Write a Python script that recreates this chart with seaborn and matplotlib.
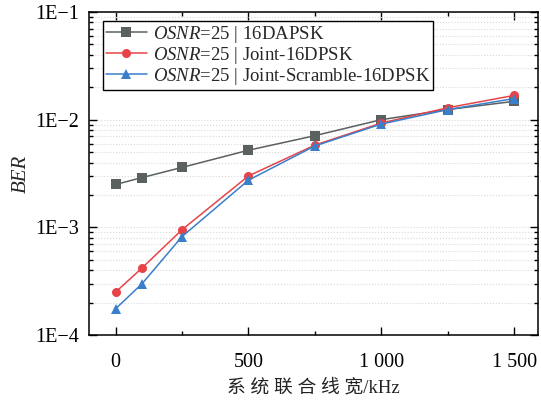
import numpy as np
import pandas as pd
import matplotlib
matplotlib.use("Agg")
import matplotlib.pyplot as plt
from matplotlib.ticker import FixedLocator, LogLocator, NullFormatter, MultipleLocator
import seaborn as sns

# Linewidth values (kHz)
linewidth_khz = [0, 100, 250, 500, 750, 1000, 1250, 1500]

# BER for each scheme at OSNR = 25
ber_16dapsk = [2.5e-3, 2.9e-3, 3.6e-3, 5.2e-3, 7.1e-3, 1.0e-2, 1.24e-2, 1.48e-2]
ber_joint = [2.5e-4, 4.2e-4, 9.5e-4, 3.0e-3, 5.8e-3, 9.3e-3, 1.29e-2, 1.68e-2]
ber_joint_scramble = [1.75e-4, 3.0e-4, 8.2e-4, 2.74e-3, 5.7e-3, 9.1e-3, 1.24e-2, 1.57e-2]

series_names = ["16DAPSK", "Joint-16DPSK", "Joint-Scramble-16DPSK"]
series_colors = ["#5b6060", "#e84447", "#3a7fca"]
series_markers = ["s", "o", "^"]
legend_labels = [r"$\mathit{OSNR}$=25 | " + n for n in series_names]

x_ticks = [0, 500, 1000, 1500]
x_tick_labels = ["0", "500", "1 000", "1 500"]
y_ticks = [1e-4, 1e-3, 1e-2, 1e-1]
y_tick_labels = ["1E\u22124", "1E\u22123", "1E\u22122", "1E\u22121"]

df = pd.DataFrame({
    "linewidth": linewidth_khz * 3,
    "ber": ber_16dapsk + ber_joint + ber_joint_scramble,
    "scheme": np.repeat(series_names, len(linewidth_khz)),
})

sns.set_theme(style="ticks")
plt.rcParams["font.family"] = ["Liberation Serif", "Noto Sans CJK SC"]
plt.rcParams["mathtext.fontset"] = "custom"
plt.rcParams["mathtext.it"] = "Liberation Serif:italic"
plt.rcParams["mathtext.rm"] = "Liberation Serif"

fig = plt.figure(figsize=(5.41, 4.0), dpi=100)
ax = fig.add_axes([0.1645, 0.1625, 0.83, 0.8075])

sns.lineplot(
    data=df, x="linewidth", y="ber", hue="scheme", style="scheme",
    hue_order=series_names, style_order=series_names,
    palette=series_colors, markers=series_markers, dashes=False,
    markersize=6.5, markeredgewidth=0, linewidth=1.1, legend=False, ax=ax,
)

ax.set_yscale("log")
ax.set_ylim(1e-4, 1e-1)
ax.set_xlim(-100, 1590)

ax.xaxis.set_major_locator(FixedLocator(x_ticks))
ax.set_xticklabels(x_tick_labels)
ax.xaxis.set_minor_locator(MultipleLocator(250))
ax.yaxis.set_major_locator(FixedLocator(y_ticks))
ax.set_yticklabels(y_tick_labels)
ax.yaxis.set_minor_locator(LogLocator(base=10, subs=np.arange(2, 10)))
ax.yaxis.set_minor_formatter(NullFormatter())

ax.tick_params(which="both", direction="in", top=True, right=True, colors="black",
               labelsize=14.5, width=1.0)
ax.tick_params(axis="x", which="both", pad=13)
ax.tick_params(axis="y", which="both", pad=7)
ax.tick_params(which="major", length=6)
ax.tick_params(which="minor", length=3)
for s in ax.spines.values():
    s.set_color("black")
    s.set_linewidth(1.1)

ax.yaxis.grid(True, which="both", color="#d8d8d8", linestyle=":", linewidth=0.8)
ax.xaxis.grid(False)
ax.set_axisbelow(True)

ax.set_xlabel("系 统 联 合 线 宽/kHz", fontsize=13.5, color="#222222", labelpad=5)
ax.set_ylabel("BER", fontsize=15, fontstyle="italic", labelpad=3)

handles = ax.get_lines()[:3]
leg = ax.legend(handles, legend_labels, loc="upper left", bbox_to_anchor=(0.031, 0.972),
                borderaxespad=0, fontsize=13.5, labelspacing=0.0, borderpad=0.15,
                handlelength=2.2, handletextpad=0.3, fancybox=False, framealpha=1,
                edgecolor="black", numpoints=1)
leg.get_frame().set_linewidth(1.0)

fig.savefig("out.png", dpi=100)
